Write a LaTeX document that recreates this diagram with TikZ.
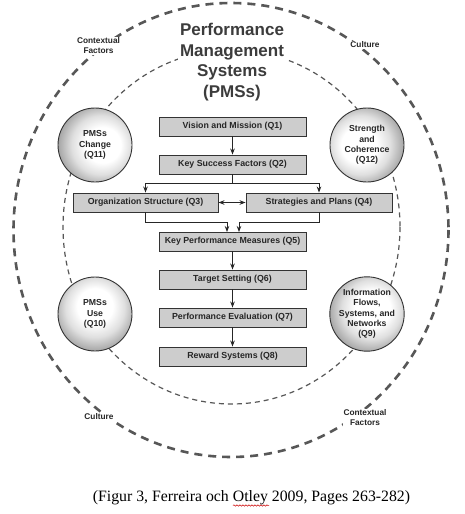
\documentclass[tikz,border=0pt]{standalone}
\usepackage{fontspec}
\setmainfont{Liberation Serif}
\newfontfamily\arialfont{Liberation Sans}
\usetikzlibrary{arrows.meta,decorations.pathmorphing}
\definecolor{boxfill}{HTML}{CDCDCD}
\definecolor{dashgray}{HTML}{575757}
\definecolor{titlegray}{HTML}{3C3C3C}
\pgfdeclareradialshading{ballchange}{\pgfpoint{7bp}{0bp}}{color(0bp)=(white); color(12bp)=(white); color(20bp)=(gray!25); color(28bp)=(gray!70); color(33bp)=(gray!60!black); color(50bp)=(black)}
\pgfdeclareradialshading{ballstrength}{\pgfpoint{-7bp}{0bp}}{color(0bp)=(white); color(12bp)=(white); color(20bp)=(gray!25); color(28bp)=(gray!70); color(33bp)=(gray!60!black); color(50bp)=(black)}
\pgfdeclareradialshading{balluse}{\pgfpoint{0bp}{7bp}}{color(0bp)=(white); color(12bp)=(white); color(20bp)=(gray!25); color(28bp)=(gray!70); color(33bp)=(gray!60!black); color(50bp)=(black)}
\pgfdeclareradialshading{ballinfo}{\pgfpoint{5bp}{5bp}}{color(0bp)=(white); color(12bp)=(white); color(20bp)=(gray!25); color(28bp)=(gray!70); color(33bp)=(gray!60!black); color(50bp)=(black)}
\tikzset{
  qbox/.style={draw=black!80, line width=0.9pt, fill=boxfill, minimum height=19pt, inner sep=0pt,
    font=\arialfont\bfseries\fontsize{8.8}{10}\selectfont, text=black!85},
  ballnode/.style={circle, draw=black!80, line width=0.9pt, minimum size=74pt, inner sep=0pt, align=center,
    font=\arialfont\bfseries\fontsize{8.7}{10.3}\selectfont, text=black!85},
  ctxlabel/.style={fill=white, inner sep=1pt, align=center,
    font=\arialfont\bfseries\fontsize{8.3}{10}\selectfont, text=black!85},
  conn/.style={draw=black!85, line width=0.9pt},
  arr/.style={conn, -{Stealth[length=6pt,width=4.5pt]}},
  darr/.style={conn, {Stealth[length=6pt,width=4.5pt]}-{Stealth[length=6pt,width=4.5pt]}},
}
\begin{document}
\begin{tikzpicture}[x=1pt,y=-1pt]
\useasboundingbox[fill=white] (0,0) rectangle (465,514);
% circles
\draw[dashgray, line width=2.6pt, dash pattern=on 8pt off 6pt] (231,230) ellipse [x radius=217.5, y radius=227];
\draw[dashgray, line width=1.2pt, dash pattern=on 5pt off 4pt] (231.5,227) ellipse [x radius=168.5, y radius=177];
% title
\node[fill=white, inner sep=2pt, align=center, text=titlegray,
  font=\arialfont\bfseries\fontsize{17}{20.6}\selectfont] (title) at (232,62)
  {Performance\\Management\\Systems\\(PMSs)};
% context labels
\node[ctxlabel] (ctl) at (98.5,46) {Contextual\\Factors};
\node[ctxlabel] (cul) at (365,45) {Culture};
\node[ctxlabel] (cul2) at (99,417) {Culture};
\node[ctxlabel] (ctr) at (365,418) {Contextual\\Factors};
% balls
\node[ballnode, shading=ballchange] (q11) at (95,145) {PMSs\\Change\\(Q11)};
\node[ballnode, shading=ballstrength] (q12) at (367,145) {Strength\\and\\Coherence\\(Q12)};
\node[ballnode, shading=balluse] (q10) at (95,314) {PMSs\\Use\\(Q10)};
\node[ballnode, shading=ballinfo] (q9) at (367,314) {Information\\Flows,\\Systems, and\\Networks\\(Q9)};
% boxes
\node[qbox, minimum width=147pt] (q1) at (232.5,126.5) {Vision and Mission (Q1)};
\node[qbox, minimum width=147pt] (q2) at (232.5,164.5) {Key Success Factors (Q2)};
\node[qbox, minimum width=145pt] (q3) at (145.5,202.5) {Organization Structure (Q3)};
\node[qbox, minimum width=146pt] (q4) at (319,202.5) {Strategies and Plans (Q4)};
\node[qbox, minimum width=147pt] (q5) at (232.5,241.5) {Key Performance Measures (Q5)};
\node[qbox, minimum width=147pt] (q6) at (232.5,279.5) {Target Setting (Q6)};
\node[qbox, minimum width=147pt] (q7) at (232.5,317.5) {Performance Evaluation (Q7)};
\node[qbox, minimum width=147pt] (q8) at (232.5,356.5) {Reward Systems (Q8)};
% connectors
\draw[arr] (q1) -- (q2);
\coordinate (split) at (232.5,183);
\draw[conn] (q2.south) -- (split);
\draw[arr] (split) -| (q3.north);
\draw[arr] (split) -| (q4.north);
\draw[darr] (q3.east) -- (q4.west);
\coordinate (in5a) at (227,232);
\coordinate (in5b) at (239,232);
\draw[arr] (q3.south) |- (227,222) -- (in5a);
\draw[arr] (q4.south) |- (239,222) -- (in5b);
\draw[arr] (q5) -- (q6);
\draw[arr] (q6) -- (q7);
\draw[arr] (q7) -- (q8);
% caption
\node[font=\fontsize{15.8}{17}\selectfont, inner sep=0pt] (cap) at (251.5,498)
  {(Figur 3, Ferreira och Otley 2009, Pages 263-282)};
\draw[red!80!black, line width=0.5pt, decorate, decoration={snake, amplitude=0.7pt, segment length=3pt}]
  (233,505.5) -- (269,505.5);
\end{tikzpicture}
\end{document}
